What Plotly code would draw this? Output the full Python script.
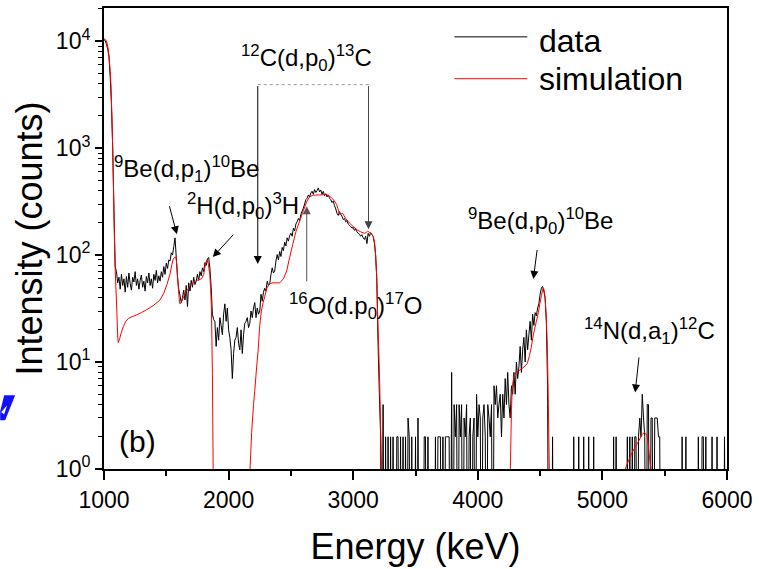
import numpy as np
import plotly.graph_objects as go

# ---------------- data ----------------
CHANNEL_START_KEV = 1000
CHANNEL_WIDTH_KEV = 10

counts_1000_1870 = [
    10300, 10100, 9300, 8400, 7100, 4600, 2500, 1000, 260, 78,
    70, 55, 62, 48, 66, 52, 60, 45, 63, 50,
    68, 54, 47, 62, 56, 70, 52, 60, 48, 58,
    65, 50, 57, 46, 63, 55, 68, 52, 60, 49,
    66, 58, 72, 55, 64, 57, 70, 62, 78, 66,
    84, 75, 90, 88, 105, 100, 120, 145, 95, 62,
    48, 42, 36, 40, 47, 38, 52, 33, 55, 46,
    58, 50, 62, 53, 57, 66, 58, 70, 64, 76,
    70, 85, 80, 92, 95, 75, 50, 28,
]
counts_1880_2390 = [
    25, 24, 14, 21, 16, 26, 22, 18, 28, 35,
    24, 32, 20, 17, 13, 7, 12, 16, 17, 21,
    15, 13, 20, 12, 18, 23, 24, 26, 21, 23,
    30, 26, 32, 36, 26, 32, 28, 30, 43, 37,
    45, 49, 46, 57, 52, 54, 66, 76, 68, 71,
    88, 101,
]
counts_2400_3230 = [
    90, 108, 97, 118, 110, 132, 122, 145, 135, 152,
    160, 150, 178, 168, 195, 205, 220, 210, 240, 257,
    275, 300, 330, 340, 365, 350, 380, 395, 370, 410,
    385, 400, 425, 390, 405, 370, 395, 360, 375, 350,
    365, 340, 330, 310, 320, 290, 270, 245, 235, 255,
    240, 230, 215, 220, 205, 210, 195, 190, 185, 178,
    182, 170, 175, 165, 160, 157, 150, 155, 145, 140,
    150, 128, 160, 150, 162, 155, 150, 130, 100, 57,
    14, 5, 2, 0,
]
counts_3240_4250 = [
    4, 0, 2, 0, 2, 0, 2, 0, 2, 0,
    0, 2, 2, 0, 2, 0, 2, 0, 2, 0,
    3, 2, 0, 2, 0, 0, 2, 0, 3, 0,
    0, 0, 0, 2, 2, 0, 2, 0, 0, 0,
    0, 0, 2, 0, 2, 2, 2, 0, 2, 0,
    2, 2, 2, 2, 0, 8, 0, 4, 2, 4,
    0, 4, 2, 4, 0, 3, 2, 4, 0, 2,
    3, 0, 2, 3, 0, 5, 2, 4, 3, 0,
    3, 4, 2, 0, 4, 3, 2, 4, 0, 6,
    4, 6, 3, 4, 5, 2, 5, 3, 7, 4,
    8, 4,
]
counts_4260_4590 = [
    3, 6, 5, 8, 5, 10, 7, 9, 14, 8,
    13, 17, 10, 20, 13, 18, 24, 16, 28, 22,
    29, 27, 32, 35, 43, 49, 51, 46, 40, 24,
    6, 0, 0, 0,
]
counts_4600_6000 = [
    2, 0, 0, 0, 0, 0, 0, 0, 0, 0,
    0, 0, 0, 0, 0, 0, 0, 2, 0, 0,
    0, 2, 0, 0, 0, 2, 0, 0, 0, 2,
    0, 0, 0, 2, 0, 0, 0, 0, 0, 0,
    0, 0, 0, 0, 0, 0, 0, 0, 0, 2,
    0, 2, 0, 0, 0, 0, 0, 0, 0, 0,
    2, 0, 2, 0, 2, 0, 2, 2, 0, 2,
    3, 2, 5, 3, 2, 0, 4, 4, 0, 3,
    3, 0, 3, 3, 3, 2, 2, 0, 0, 0,
    0, 0, 0, 0, 0, 0, 0, 0, 0, 0,
    0, 0, 0, 0, 2, 0, 0, 2, 0, 0,
    0, 0, 0, 0, 0, 0, 0, 2, 0, 0,
    2, 2, 0, 2, 0, 0, 0, 0, 2, 0,
    0, 0, 2, 0, 0, 0, 0, 0, 2, 0,
    0,
]

sim_energy = [
    1000, 1010, 1020, 1030, 1040, 1050, 1056, 1064, 1070, 1076, 1082, 1088,
    1096, 1104, 1110, 1115, 1125, 1140, 1155, 1175, 1195, 1224, 1260, 1300,
    1345, 1400, 1449, 1480, 1505, 1529, 1545, 1555, 1567, 1577, 1585, 1595,
    1603, 1609, 1620, 1640, 1662, 1690, 1715, 1743, 1765, 1783, 1800, 1809,
    1820, 1828, 1838, 1849, 1856, 1862, 1866, 1870, 1873, 1876, 1880,
    2160, 2172, 2185, 2200, 2210, 2225, 2237, 2250, 2263, 2277, 2290, 2306,
    2330, 2355, 2410, 2440, 2466, 2490, 2515, 2540, 2570, 2600, 2627, 2650,
    2675, 2700, 2731, 2760, 2787, 2811, 2835, 2850, 2867, 2880, 2891, 2903,
    2915, 2940, 2971, 3000, 3035, 3060, 3091, 3105, 3115, 3125, 3135, 3150,
    3162, 3172, 3180, 3188, 3196, 3204, 3212, 3220, 3228, 3235,
    4250, 4261, 4270, 4277, 4290, 4309, 4330, 4357, 4380, 4397, 4415, 4429,
    4440, 4453, 4470, 4486, 4498, 4510, 4520, 4526, 4532, 4538, 4542, 4550,
    4558, 4566, 4574, 4580,
    5175, 5183, 5210, 5240, 5270, 5295, 5320, 5335, 5348, 5360, 5368, 5375,
    5383, 5391, 5400, 6000,
]
sim_counts = [
    10500, 10400, 10000, 9000, 7400, 5200, 3900, 1900, 950, 420, 180, 83,
    48, 28, 17, 15.2, 16.5, 19, 21.5, 24, 25.5, 26.5, 27.5, 29,
    31, 34, 38, 44, 53, 66, 82, 91, 95, 96, 80, 52,
    40, 35, 36, 41, 46, 51, 55, 58, 59, 60, 66, 76,
    87, 90, 82, 66, 48, 32, 16, 7.8, 3, 1, 0,
    0, 1, 2.2, 4, 5.4, 9, 12.8, 22, 30, 36, 41, 49,
    54, 55, 55, 60, 71, 95, 126, 165, 208, 260, 317, 350,
    362, 364, 365, 367, 368, 355, 335, 320, 297, 265, 240, 243,
    245, 220, 199, 185, 171, 165, 160, 163, 167, 165, 162, 157,
    148, 130, 100, 66, 28, 14, 6.7, 2.5, 1, 0,
    0, 1, 3.5, 5.8, 7.4, 8, 8.3, 8.7, 9.2, 9.7, 11.5, 13.7,
    16.5, 19.6, 24, 29, 35, 41.6, 47, 49, 47, 42, 37, 25,
    14, 4, 1, 0,
    0, 1, 1.2, 1.44, 1.65, 1.86, 2.1, 2.2, 2.15, 2.0, 1.7, 1.4,
    1.15, 1, 0, 0,
]

x_tickvals = [1000, 2000, 3000, 4000, 5000, 6000]
y_tickvals = [1, 10, 100, 1000, 10000]
y_ticktext = ["10<sup>0</sup>", "10<sup>1</sup>", "10<sup>2</sup>",
              "10<sup>3</sup>", "10<sup>4</sup>"]

# ---------------- build ----------------
data_counts = np.array(counts_1000_1870 + counts_1880_2390 + counts_2400_3230
                       + counts_3240_4250 + counts_4260_4590 + counts_4600_6000,
                       dtype=float)
data_energy = CHANNEL_START_KEV + CHANNEL_WIDTH_KEV * np.arange(len(data_counts))
FLOOR = 1e-2  # zero counts drawn below the log axis
data_plot = np.where(data_counts > 0, data_counts, FLOOR)
sim_arr = np.array(sim_counts, dtype=float)
sim_plot = np.where(sim_arr > 0, sim_arr, FLOOR)

FONT = "Liberation Sans, Arial, sans-serif"

fig = go.Figure()
fig.add_trace(go.Scatter(x=data_energy, y=data_plot, mode="lines", name="data",
                         line=dict(color="black", width=1, simplify=False),
                         showlegend=False))
fig.add_trace(go.Scatter(x=sim_energy, y=sim_plot, mode="lines", name="simulation",
                         line=dict(color="#ff0000", width=1, simplify=False),
                         showlegend=False))

# plot-area geometry (pixels) used to place decorations
L, R, T, B = 104, 728, 6, 469
def px(xp):
    return (xp - L) / (R - L)
def py(yp):
    return (B - yp) / (B - T)

ann = []
def label(text, xc, yc, size=24, anchor="center"):
    ann.append(dict(text=text, x=px(xc), y=py(yc), xref="paper", yref="paper",
                    showarrow=False, xanchor=anchor, yanchor="middle",
                    font=dict(family=FONT, size=size, color="black")))

def arrow(e, c, ax, ay, color="black"):
    ann.append(dict(text=" ", x=e, y=np.log10(c), xref="x", yref="y",
                    ax=ax, ay=ay, showarrow=True, arrowhead=2, arrowsize=1.6,
                    arrowwidth=1, arrowcolor=color, standoff=0,
                    font=dict(size=1)))

label("<sup>12</sup>C(d,p<sub>0</sub>)<sup>13</sup>C", 307, 56)
label("<sup>9</sup>Be(d,p<sub>1</sub>)<sup>10</sup>Be", 187, 168)
label("<sup>2</sup>H(d,p<sub>0</sub>)<sup>3</sup>H", 243, 205)
label("<sup>16</sup>O(d.p<sub>0</sub>)<sup>17</sup>O", 356, 305)
label("<sup>9</sup>Be(d,p<sub>0</sub>)<sup>10</sup>Be", 541, 220)
label("<sup>14</sup>N(d,a<sub>1</sub>)<sup>12</sup>C", 650, 330)
label("(b)", 138, 441, size=30)
label("data", 538, 39, size=32, anchor="left")
label("simulation", 538, 77, size=32, anchor="left")

# arrows: tip at (energy, counts), tail offset in pixels
arrow(1585, 10 ** 2.195, -8, -30)
arrow(1873, 10 ** 1.981, 22, -24)
arrow(2627, 10 ** 2.456, 0, 77, color="#555555")
arrow(4446, 10 ** 1.777, 4, -31)
arrow(5263, 10 ** 0.716, 4, -37)
arrow(2234, 10 ** 1.916, 0, -180)
arrow(3123, 10 ** 2.242, 0, -145, color="#444444")

shapes = [
    # dotted bracket over 12C(d,p0) region
    dict(type="line", xref="paper", yref="paper", x0=px(258), x1=px(370),
         y0=py(83), y1=py(83), line=dict(color="#999999", width=1, dash="dot")),
    # legend samples
    dict(type="line", xref="paper", yref="paper", x0=px(455), x1=px(528),
         y0=py(35), y1=py(35), line=dict(color="black", width=1)),
    dict(type="line", xref="paper", yref="paper", x0=px(455), x1=px(528),
         y0=py(77), y1=py(77), line=dict(color="#ff0000", width=1)),
    # blue fragment at the left edge
    dict(type="path", xref="paper", yref="paper",
         path=(f"M {px(4)},{py(395)} L {px(15)},{py(395)} L {px(5)},{py(420)} "
               f"L {px(0)},{py(420)} L {px(0)},{py(411)} Z"),
         fillcolor="#1010ff", line=dict(width=0)),
    dict(type="path", xref="paper", yref="paper",
         path=f"M {px(1)},{py(412)} L {px(7)},{py(405)} L {px(4)},{py(414)} Z",
         fillcolor="white", line=dict(width=0)),
]

minor_y = [m * 10 ** k for k in range(0, 5) for m in range(2, 10)]

fig.update_layout(
    width=759, height=569,
    margin=dict(l=L, r=759 - R, t=T, b=569 - B),
    paper_bgcolor="white", plot_bgcolor="white",
    font=dict(family=FONT, color="black"),
    annotations=ann, shapes=shapes, showlegend=False,
)
fig.update_xaxes(
    range=[1000, 6000], tickvals=x_tickvals, ticks="outside", ticklen=9,
    tickwidth=1.5, tickcolor="black", showline=True, linewidth=2,
    linecolor="black", mirror=True, showgrid=False, zeroline=False,
    tickfont=dict(family=FONT, size=23),
    minor=dict(tickvals=[1500, 2500, 3500, 4500, 5500], ticks="outside",
               ticklen=5, tickwidth=1.5, tickcolor="black", showgrid=False),
    title=dict(text="Energy (keV)", font=dict(family=FONT, size=36), standoff=22),
)
fig.update_yaxes(
    type="log", range=[0, 4.31], tickvals=y_tickvals, ticktext=y_ticktext,
    ticks="outside", ticklen=7, tickwidth=1.5, tickcolor="black",
    showline=True, linewidth=2, linecolor="black", mirror=True,
    showgrid=False, zeroline=False, tickfont=dict(family=FONT, size=23),
    minor=dict(tickvals=minor_y, ticks="outside", ticklen=4, tickwidth=1,
               tickcolor="black", showgrid=False),
    title=dict(text="Intensity (counts)", font=dict(family=FONT, size=36), standoff=2),
)

fig.write_html("out.html", config={"displayModeBar": False},
               post_script="document.body.style.margin='0';"
                           "document.body.style.overflow='hidden';")
